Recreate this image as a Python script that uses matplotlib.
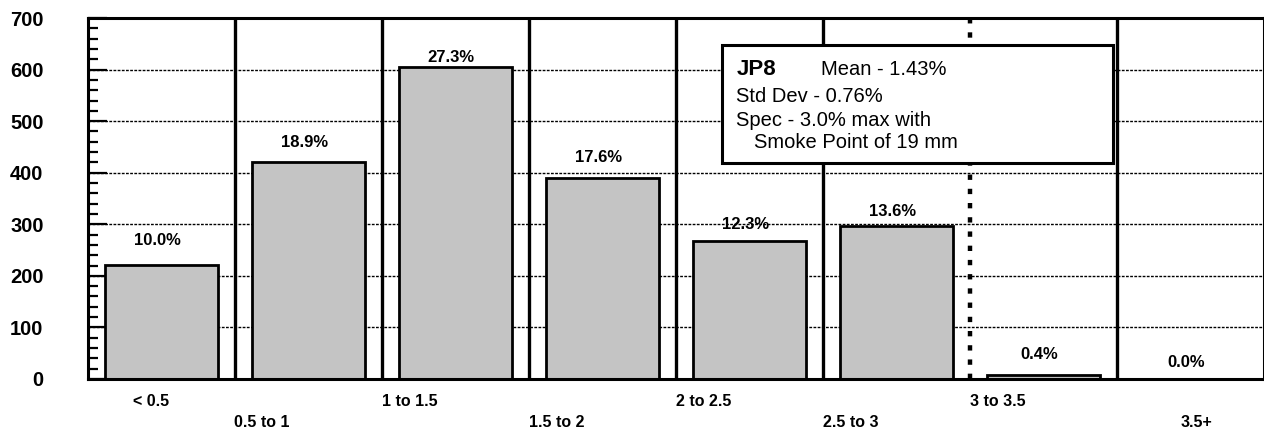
import matplotlib
matplotlib.use("Agg")
import matplotlib.pyplot as plt
import matplotlib.transforms as mtransforms
from matplotlib.patches import Rectangle
from matplotlib.ticker import MultipleLocator

plt.rcParams["font.family"] = ["Liberation Sans", "DejaVu Sans"]

# ── data ─────────────────────────────────────
categories = ["< 0.5", "0.5 to 1", "1 to 1.5", "1.5 to 2",
              "2 to 2.5", "2.5 to 3", "3 to 3.5", "3.5+"]
counts = [221, 420, 605, 390, 268, 296, 8, 0]
pct_labels = ["10.0%", "18.9%", "27.3%", "17.6%",
              "12.3%", "13.6%", "0.4%", "0.0%"]
spec_limit = "3 to 3.5"   # dashed spec line sits at the left edge of this bin

box_title = "JP8"
box_lines = ["Mean - 1.43%", "Std Dev - 0.76%",
             "Spec - 3.0% max with", "Smoke Point of 19 mm"]

# ── layout ───────────────────────────────────
label_x_shift = [-0.07, -0.32, -0.31, -0.31, -0.31, -0.31, -0.31, 0.04]
label_row = [0, 1, 0, 1, 0, 1, 0, 1]
pct_gap = [18, 14, 7, 15, 12, 11, 15, 12]   # points above bar top

fig = plt.figure(figsize=(12.64, 4.32), dpi=100)
ax = fig.add_axes([88 / 1264, 53 / 432, 1176 / 1264, 361 / 432])

x = list(range(len(categories)))
ax.set_xlim(-0.5, len(categories) - 0.5)
ax.set_ylim(0, 700)

# grid
for yv in range(100, 700, 100):
    ax.axhline(yv, color="black", lw=1.0, ls=(0, (2, 1)), zorder=1)

# separators
spec_idx = categories.index(spec_limit)
for i in range(1, len(categories)):
    if i == spec_idx:
        ax.axvline(i - 0.5, color="black", lw=3.2, ls=(0, (1.2, 2.0)), zorder=2)
    else:
        ax.axvline(i - 0.5, color="black", lw=2.4, zorder=2)

# bars
ax.bar(x, counts, width=0.77, color="#c4c4c4", edgecolor="black",
       linewidth=2.0, zorder=3)

for i, (c, lab) in enumerate(zip(counts, pct_labels)):
    ax.annotate(lab, (i - 0.03, c), xytext=(0, pct_gap[i]),
                textcoords="offset points", ha="center", va="center",
                fontsize=12, fontweight="bold", zorder=5)

# staggered category labels
trans = mtransforms.blended_transform_factory(ax.transData, ax.transAxes)
for i, cat in enumerate(categories):
    off = -16 if label_row[i] == 0 else -31
    ax.annotate(cat, (i + label_x_shift[i], 0), xycoords=trans,
                xytext=(0, off), textcoords="offset points",
                ha="center", va="center", fontsize=11.5, fontweight="bold",
                annotation_clip=False)

# axes styling
ax.set_xticks([])
ax.yaxis.set_major_locator(MultipleLocator(100))
ax.yaxis.set_minor_locator(MultipleLocator(20))
ax.tick_params(axis="y", which="major", direction="in", length=14,
               width=1.6, pad=32, labelsize=14.5)
ax.tick_params(axis="y", which="minor", direction="in", length=7, width=1.6)
for lab in ax.get_yticklabels():
    lab.set_fontweight("bold")
for sp in ax.spines.values():
    sp.set_linewidth(2.2)
    sp.set_zorder(6)

# stats box
ax.add_patch(Rectangle((3.813, 419), 2.66, 229, facecolor="white",
                       edgecolor="black", lw=2.2, zorder=7))
ax.text(3.915, 589, box_title, fontsize=16, fontweight="bold",
        va="baseline", zorder=8)
line_x = [4.486, 3.905, 3.905, 4.03]
line_y = [589, 537, 491, 448]
for i, line in enumerate(box_lines):
    ax.text(line_x[i], line_y[i], line, fontsize=14.5, va="baseline", zorder=8)

fig.savefig("out.png", dpi=100)
